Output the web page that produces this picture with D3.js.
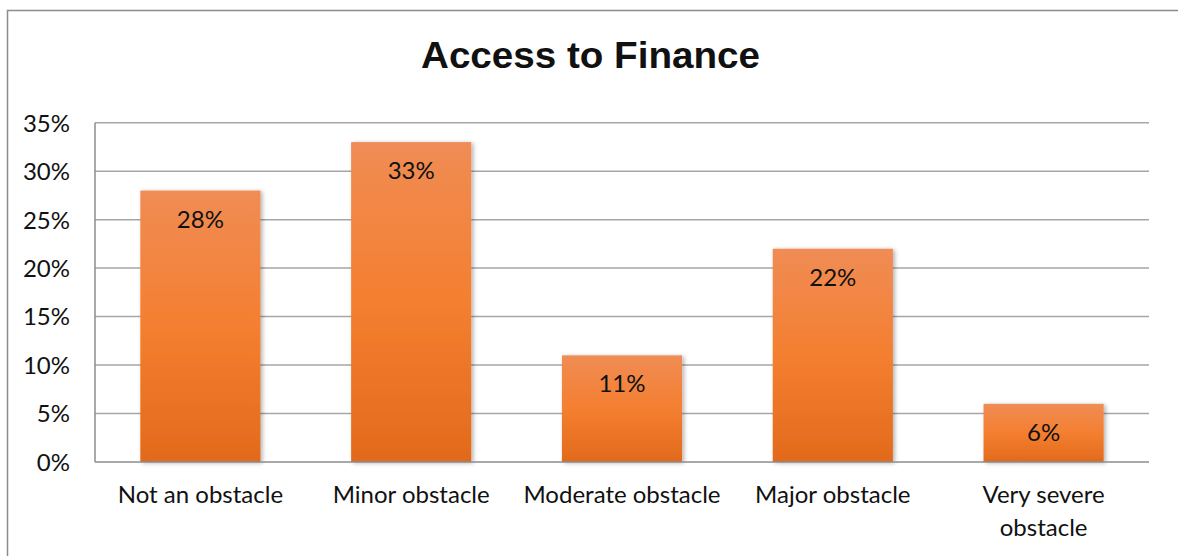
<!DOCTYPE html>
<html>
<head>
<meta charset="utf-8">
<script src="https://cdn.jsdelivr.net/npm/d3@7"></script>
<style>
  html, body { margin: 0; padding: 0; background: #ffffff; }
  svg { display: block; }
  text { font-family: Lato, "Open Sans", "Liberation Sans", sans-serif; fill: #111; }
</style>
</head>
<body>
<svg id="chart" width="1178" height="556"></svg>
<script>
// Survey responses: how much of an obstacle is access to finance
const categories = ["Not an obstacle", "Minor obstacle", "Moderate obstacle", "Major obstacle", "Very severe obstacle"];
const categoryLines = [["Not an obstacle"], ["Minor obstacle"], ["Moderate obstacle"], ["Major obstacle"], ["Very severe", "obstacle"]];
const shares = [28, 33, 11, 22, 6];
const yTicks = [0, 5, 10, 15, 20, 25, 30, 35];
const title = "Access to Finance";

const W = 1178, H = 556;
const plot = { left: 95, right: 1149, top: 122.7, bottom: 462 };

const svg = d3.select("#chart");
const defs = svg.append("defs");

const grad = defs.append("linearGradient")
  .attr("id", "barFill").attr("x1", 0).attr("y1", 0).attr("x2", 0).attr("y2", 1);
grad.append("stop").attr("offset", "0%").attr("stop-color", "#F08C55");
grad.append("stop").attr("offset", "50%").attr("stop-color", "#F47F30");
grad.append("stop").attr("offset", "100%").attr("stop-color", "#E26A1C");

const shadow = defs.append("filter").attr("id", "barShadow")
  .attr("x", "-10%").attr("y", "-10%").attr("width", "130%").attr("height", "130%");
shadow.append("feDropShadow").attr("dx", 2).attr("dy", 1).attr("stdDeviation", 2)
  .attr("flood-color", "#000").attr("flood-opacity", 0.3);

// chart frame
svg.append("rect")
  .attr("x", 7.5).attr("y", 10.5).attr("width", W + 10).attr("height", H + 10)
  .attr("fill", "none").attr("stroke", "#8c8c8c").attr("stroke-width", 1.5);

const x = d3.scaleBand().domain(categories).range([plot.left, plot.right]).paddingInner(0.43).paddingOuter(0.215);
const y = d3.scaleLinear().domain([0, 35]).range([plot.bottom, plot.top]);

// horizontal gridlines
svg.append("g").selectAll("line").data(yTicks.filter(d => d > 0)).join("line")
  .attr("x1", plot.left).attr("x2", plot.right)
  .attr("y1", d => y(d)).attr("y2", d => y(d))
  .attr("stroke", "#a6a6a6").attr("stroke-width", 1.5);

// y axis tick labels
const yAxis = d3.axisLeft(y).tickValues(yTicks).tickFormat(d => d + "%").tickSize(0).tickPadding(25);
const gy = svg.append("g").attr("transform", `translate(${plot.left},0)`).call(yAxis);
gy.select(".domain").remove();
gy.selectAll("text").style("font-size", "24px").attr("fill", "#111").attr("dy", "0.35em");

// bars
svg.append("g").selectAll("rect").data(shares).join("rect")
  .attr("x", (d, i) => x(categories[i]))
  .attr("y", d => y(d))
  .attr("width", x.bandwidth())
  .attr("height", d => y(0) - y(d))
  .attr("fill", "url(#barFill)")
  .attr("filter", "url(#barShadow)");

// value labels inside bar tops
svg.append("g").selectAll("text").data(shares).join("text")
  .attr("x", (d, i) => x(categories[i]) + x.bandwidth() / 2)
  .attr("y", d => y(d) + 37)
  .attr("text-anchor", "middle")
  .style("font-size", "24px")
  .text(d => d + "%");

// axis lines
svg.append("line").attr("x1", plot.left).attr("x2", plot.left).attr("y1", plot.top).attr("y2", plot.bottom)
  .attr("stroke", "#8c8c8c").attr("stroke-width", 1.5);
svg.append("line").attr("x1", plot.left).attr("x2", plot.right).attr("y1", plot.bottom).attr("y2", plot.bottom)
  .attr("stroke", "#8c8c8c").attr("stroke-width", 1.5);

// category labels
const cat = svg.append("g").selectAll("text").data(categories).join("text")
  .attr("x", d => x(d) + x.bandwidth() / 2)
  .attr("y", 503)
  .attr("text-anchor", "middle")
  .style("font-size", "24px");
cat.each(function (d, i) {
  d3.select(this).selectAll("tspan").data(categoryLines[i]).join("tspan")
    .attr("x", x(d) + x.bandwidth() / 2)
    .attr("dy", (t, j) => j === 0 ? 0 : 33)
    .text(t => t);
});

// title
svg.append("text")
  .attr("x", 421).attr("y", 68)
  .attr("textLength", 339)
  .attr("lengthAdjust", "spacingAndGlyphs")
  .style("font-family", "'Liberation Sans', Arial, sans-serif")
  .style("font-weight", "bold")
  .style("font-size", "36px")
  .text(title);
</script>
</body>
</html>
